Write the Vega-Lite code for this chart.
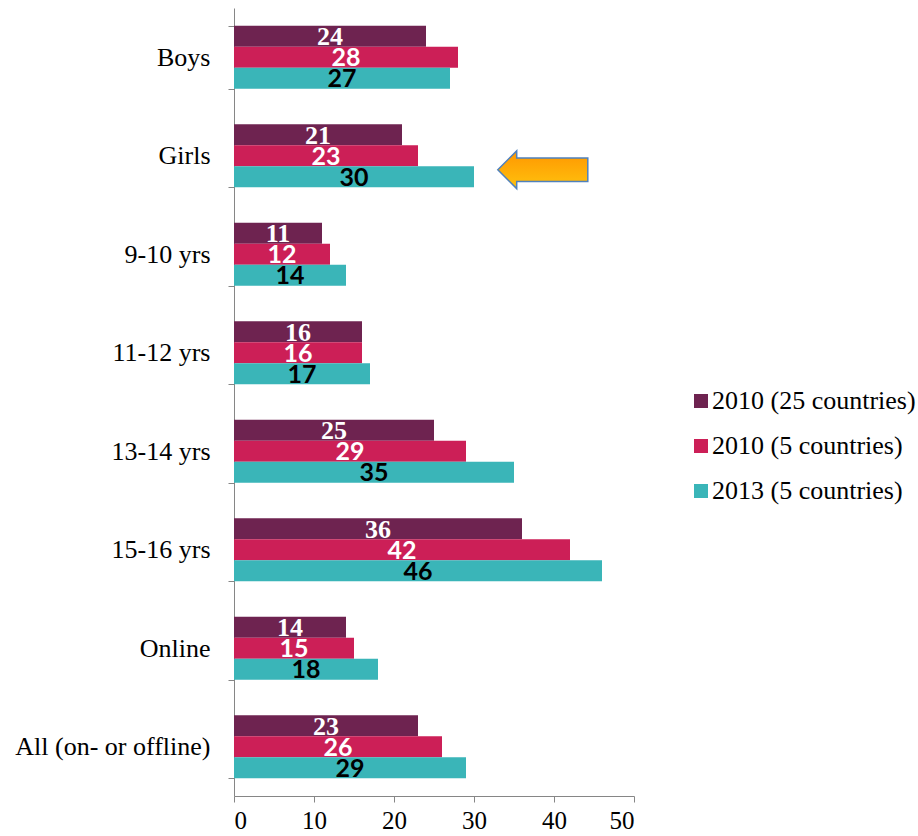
{
  "$schema": "https://vega.github.io/schema/vega-lite/v6.json",
  "autosize": "none",
  "width": 400,
  "height": 788,
  "padding": {"left": 234, "top": 8, "right": 284, "bottom": 40},
  "background": "white",
  "config": {"view": {"stroke": null}},
  "data": {"values": [
    {"category": "Boys\u00a0", "series": "2010 (25 countries)", "value": 24},
    {"category": "Boys\u00a0", "series": "2010 (5 countries)", "value": 28},
    {"category": "Boys\u00a0", "series": "2013 (5 countries)", "value": 27},
    {"category": "Girls", "series": "2010 (25 countries)", "value": 21},
    {"category": "Girls", "series": "2010 (5 countries)", "value": 23},
    {"category": "Girls", "series": "2013 (5 countries)", "value": 30},
    {"category": "9-10 yrs", "series": "2010 (25 countries)", "value": 11},
    {"category": "9-10 yrs", "series": "2010 (5 countries)", "value": 12},
    {"category": "9-10 yrs", "series": "2013 (5 countries)", "value": 14},
    {"category": "11-12 yrs", "series": "2010 (25 countries)", "value": 16},
    {"category": "11-12 yrs", "series": "2010 (5 countries)", "value": 16},
    {"category": "11-12 yrs", "series": "2013 (5 countries)", "value": 17},
    {"category": "13-14 yrs", "series": "2010 (25 countries)", "value": 25},
    {"category": "13-14 yrs", "series": "2010 (5 countries)", "value": 29},
    {"category": "13-14 yrs", "series": "2013 (5 countries)", "value": 35},
    {"category": "15-16 yrs", "series": "2010 (25 countries)", "value": 36},
    {"category": "15-16 yrs", "series": "2010 (5 countries)", "value": 42},
    {"category": "15-16 yrs", "series": "2013 (5 countries)", "value": 46},
    {"category": "Online", "series": "2010 (25 countries)", "value": 14},
    {"category": "Online", "series": "2010 (5 countries)", "value": 15},
    {"category": "Online", "series": "2013 (5 countries)", "value": 18},
    {"category": "All (on- or offline)", "series": "2010 (25 countries)", "value": 23},
    {"category": "All (on- or offline)", "series": "2010 (5 countries)", "value": 26},
    {"category": "All (on- or offline)", "series": "2013 (5 countries)", "value": 29}
  ]},
  "encoding": {
    "y": {
      "field": "category", "type": "nominal",
      "sort": ["Boys\u00a0", "Girls", "9-10 yrs", "11-12 yrs", "13-14 yrs", "15-16 yrs", "Online", "All (on- or offline)"],
      "scale": {"paddingInner": 0.36, "paddingOuter": 0.18},
      "axis": {
        "title": null, "tickBand": "extent", "tickSize": 6, "tickColor": "#868686", "domainColor": "#868686",
        "labelFont": "Liberation Serif, Times New Roman, serif", "labelFontSize": 26, "labelColor": "#000000", "labelPadding": 18, "labelLimit": 300
      }
    },
    "yOffset": {
      "field": "series", "type": "nominal",
      "sort": ["2010 (25 countries)", "2010 (5 countries)", "2013 (5 countries)"],
      "scale": {"paddingInner": 0, "paddingOuter": 0}
    }
  },
  "layer": [
    {
      "mark": {"type": "bar"},
      "encoding": {
        "x": {
          "field": "value", "type": "quantitative",
          "scale": {"domain": [0, 50], "nice": false},
          "axis": {
            "title": null, "values": [0, 10, 20, 30, 40, 50], "grid": false, "tickSize": 6,
            "tickColor": "#868686", "domainColor": "#868686",
            "labelFont": "Liberation Serif, Times New Roman, serif", "labelFontSize": 25, "labelColor": "#000000", "labelPadding": 6
          }
        },
        "color": {
          "field": "series", "type": "nominal",
          "sort": ["2010 (25 countries)", "2010 (5 countries)", "2013 (5 countries)"],
          "scale": {"range": ["#6E2350", "#CC1F57", "#3AB5B8"]},
          "legend": {
            "title": null, "orient": "none", "legendX": 454, "legendY": 380,
            "symbolType": "square", "symbolSize": 196, "symbolStrokeWidth": 0,
            "labelFont": "Liberation Serif, Times New Roman, serif", "labelFontSize": 26, "labelColor": "#000000",
            "rowPadding": 19, "labelOffset": -2, "labelLimit": 300
          }
        }
      }
    },
    {
      "transform": [{"filter": "datum.series === '2010 (25 countries)'"}],
      "mark": {"type": "text", "font": "Liberation Serif, Times New Roman, serif", "fontWeight": "bold", "fontSize": 26, "color": "#FFFFFF", "baseline": "middle", "dy": 1},
      "encoding": {
        "x": {"field": "value", "type": "quantitative", "stack": "zero", "bandPosition": 0.5},
        "text": {"field": "value", "type": "quantitative"}
      }
    },
    {
      "transform": [{"filter": "datum.series === '2010 (5 countries)'"}],
      "mark": {"type": "text", "font": "Lato", "fontWeight": "bold", "fontSize": 25, "color": "#FFFFFF", "baseline": "middle", "dy": 1},
      "encoding": {
        "x": {"field": "value", "type": "quantitative", "stack": "zero", "bandPosition": 0.5},
        "text": {"field": "value", "type": "quantitative"}
      }
    },
    {
      "transform": [{"filter": "datum.series === '2013 (5 countries)'"}],
      "mark": {"type": "text", "font": "Lato", "fontWeight": "bold", "fontSize": 25, "color": "#000000", "baseline": "middle", "dy": 1},
      "encoding": {
        "x": {"field": "value", "type": "quantitative", "stack": "zero", "bandPosition": 0.5},
        "text": {"field": "value", "type": "quantitative"}
      }
    },
    {
      "data": {"values": [{"category": "Girls", "value": 38.6}]},
      "mark": {
        "type": "point", "filled": true, "opacity": 1, "size": 8100, "yOffset": 14,
        "shape": "M -1 0 L -0.58 -0.42 L -0.58 -0.26 L 1 -0.26 L 1 0.26 L -0.58 0.26 L -0.58 0.42 Z",
        "fill": {"gradient": "linear", "x1": 0, "y1": 0, "x2": 0, "y2": 1, "stops": [{"offset": 0, "color": "#FF9600"}, {"offset": 1, "color": "#FFC20E"}]},
        "stroke": "#4F81BD", "strokeWidth": 1.5
      },
      "encoding": {
        "x": {"field": "value", "type": "quantitative"},
        "yOffset": null
      }
    }
  ]
}
